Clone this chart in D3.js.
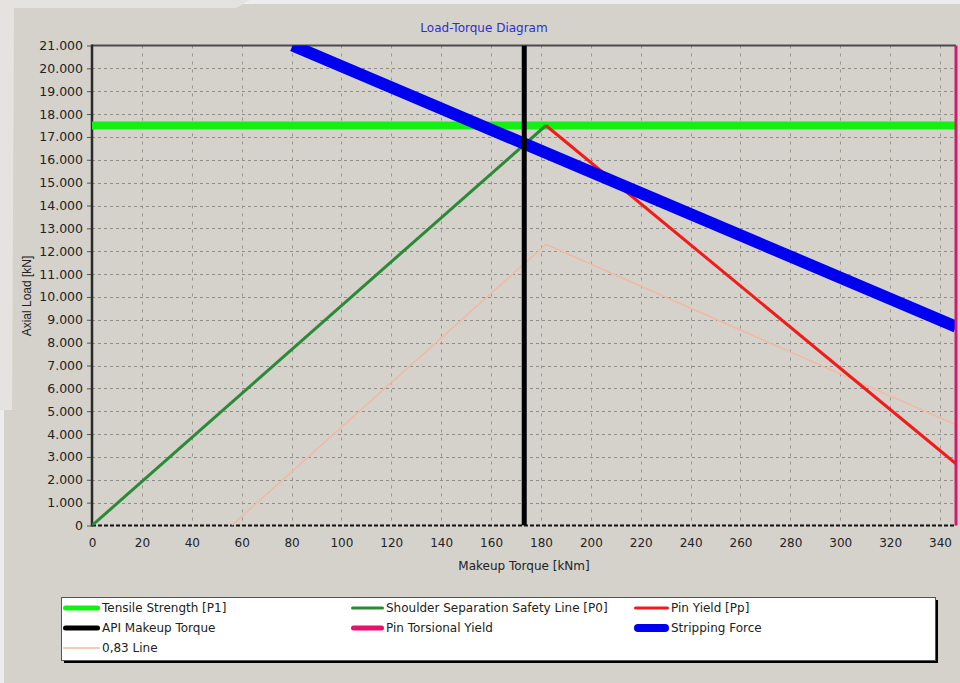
<!DOCTYPE html>
<html>
<head>
<meta charset="utf-8">
<script src="https://cdn.jsdelivr.net/npm/d3@7"></script>
<style>
  html, body { margin: 0; padding: 0; background: #ededed; }
  svg { display: block; }
</style>
</head>
<body>
<div id="chart"></div>
<script>
// Load-Torque Diagram (axial load vs makeup torque)

const xMax = 346.4;
const yMax = 21000;
const xTicks = d3.range(0, 341, 20);
const yTicks = d3.range(0, 21001, 1000);

// series as [torque kNm, load kN]
const tensileStrength = [[0, 17500], [346.4, 17500]];
const shoulderLine = [[0, 0], [182, 17500]];
const pinYield = [[182, 17500], [346.4, 2700]];
const apiMakeupTorque = [[173.3, 0], [173.3, 21000]];
const pinTorsionalYield = [[346.4, 0], [346.4, 21000]];
const strippingForce = [[80.4, 21000], [346.4, 8700]];
const line083 = [[56, 0], [182, 12300], [346.4, 4400]];

const legendItems = [
    { name: 'Tensile Strength [P1]', color: '#14f014', w: 5, col: 0, row: 0 },
    { name: 'Shoulder Separation Safety Line [P0]', color: '#2a8a36', w: 3, col: 1, row: 0 },
    { name: 'Pin Yield [Pp]', color: '#f01c1c', w: 3, col: 2, row: 0 },
    { name: 'API Makeup Torque', color: '#000000', w: 5, col: 0, row: 1 },
    { name: 'Pin Torsional Yield', color: '#e8106a', w: 5, col: 1, row: 1 },
    { name: 'Stripping Force', color: '#0000f0', w: 8, col: 2, row: 1 },
    { name: '0,83 Line', color: '#f2b9a2', w: 1.5, col: 0, row: 2 }
];

const width = 960, height = 683;
const plot = { left: 92, right: 956, top: 45.5, bottom: 525.5 };

const svg = d3.select('#chart').append('svg')
    .attr('width', width)
    .attr('height', height);

// panel background (with the lighter scan edges)
svg.append('rect')
    .attr('x', 4).attr('y', 4)
    .attr('width', width - 4).attr('height', height - 4)
    .attr('fill', '#d5d2cc');
svg.append('path')
    .attr('d', 'M0,0 L250,0 L236,8 L14,8 L12,410 L0,410 Z')
    .attr('fill', '#e4e3e0');

const x = d3.scaleLinear().domain([0, xMax]).range([plot.left, plot.right]);
const y = d3.scaleLinear().domain([0, yMax]).range([plot.bottom, plot.top]);

svg.append('defs').append('clipPath')
    .attr('id', 'plot-clip')
    .append('rect')
    .attr('x', plot.left)
    .attr('y', plot.top)
    .attr('width', plot.right - plot.left)
    .attr('height', plot.bottom - plot.top);

// Title
svg.append('text')
    .attr('x', 484)
    .attr('y', 32)
    .attr('text-anchor', 'middle')
    .style('font-family', 'DejaVu Sans, sans-serif')
    .style('font-size', '12px')
    .style('fill', '#2f2fc8')
    .text('Load-Torque Diagram');

// Grid
const grid = svg.append('g').attr('class', 'grid');
grid.selectAll('.hgrid')
    .data(yTicks.filter(d => d > 0 && d < yMax))
    .enter().append('line')
    .attr('x1', plot.left).attr('x2', plot.right)
    .attr('y1', d => Math.round(y(d)) + 0.5)
    .attr('y2', d => Math.round(y(d)) + 0.5)
    .attr('stroke', '#8f8d89')
    .attr('stroke-width', 1)
    .attr('stroke-dasharray', '3,3');
grid.selectAll('.vgrid')
    .data(xTicks.filter(d => d > 0))
    .enter().append('line')
    .attr('y1', plot.top).attr('y2', plot.bottom)
    .attr('x1', d => Math.round(x(d)) + 0.5)
    .attr('x2', d => Math.round(x(d)) + 0.5)
    .attr('stroke', '#979590')
    .attr('stroke-width', 1)
    .attr('stroke-dasharray', '3,5');

// Axes
const yAxis = svg.append('g')
    .attr('transform', `translate(${plot.left},0)`)
    .call(d3.axisLeft(y)
        .tickValues(yTicks)
        .tickSize(5)
        .tickPadding(4)
        .tickFormat(d => d === 0 ? '0' : d3.format(',')(d).replace(/,/g, '.')));
yAxis.select('.domain').remove();
yAxis.selectAll('line').attr('stroke', '#555');
yAxis.selectAll('text')
    .style('font-family', 'DejaVu Sans, sans-serif')
    .style('font-size', '12.5px')
    .style('fill', '#222');

const xAxis = svg.append('g')
    .attr('transform', `translate(0,${plot.bottom})`)
    .call(d3.axisBottom(x)
        .tickValues(xTicks)
        .tickSize(0)
        .tickPadding(13));
xAxis.select('.domain').remove();
xAxis.selectAll('text')
    .style('font-family', 'DejaVu Sans, sans-serif')
    .style('font-size', '12px')
    .style('fill', '#222');

svg.append('text')
    .attr('x', (plot.left + plot.right) / 2)
    .attr('y', 570)
    .attr('text-anchor', 'middle')
    .style('font-family', 'DejaVu Sans, sans-serif')
    .style('font-size', '12px')
    .style('fill', '#222')
    .text('Makeup Torque [kNm]');

svg.append('text')
    .attr('transform', 'translate(31,296) rotate(-90)')
    .attr('text-anchor', 'middle')
    .style('font-family', 'Liberation Sans, Arial, sans-serif')
    .style('font-size', '12px')
    .style('fill', '#222')
    .text('Axial Load [kN]');

// Frame
svg.append('line')
    .attr('x1', plot.left).attr('x2', plot.right)
    .attr('y1', plot.top).attr('y2', plot.top)
    .attr('stroke', '#4a4a4a').attr('stroke-width', 2);
svg.append('line')
    .attr('x1', plot.left).attr('x2', plot.right)
    .attr('y1', plot.bottom).attr('y2', plot.bottom)
    .attr('stroke', '#111').attr('stroke-width', 2)
    .attr('stroke-dasharray', '4,2');
svg.append('line')
    .attr('x1', plot.left).attr('x2', plot.left)
    .attr('y1', plot.top - 1).attr('y2', plot.bottom + 1)
    .attr('stroke', '#2a2a2a').attr('stroke-width', 2.5);

// Series
const lineGen = d3.line().x(d => x(d[0])).y(d => y(d[1]));
const series = svg.append('g').attr('clip-path', 'url(#plot-clip)');

function drawSeries(target, data, color, w) {
    target.append('path')
        .datum(data)
        .attr('d', lineGen)
        .attr('fill', 'none')
        .attr('stroke', color)
        .attr('stroke-width', w)
        .attr('stroke-linejoin', 'miter');
}

drawSeries(series, line083, '#f2b9a2', 1.5);
drawSeries(series, tensileStrength, '#14f014', 8);
drawSeries(series, shoulderLine, '#2a8a36', 3);
drawSeries(series, pinYield, '#f01c1c', 3);
drawSeries(series, strippingForce, '#0000f0', 12);
drawSeries(series, apiMakeupTorque, '#000000', 5);
// torsional yield sits on the right edge, keep it unclipped
drawSeries(svg, pinTorsionalYield, '#d8186a', 3);

// Legend
const legend = svg.append('g').attr('class', 'legend');
const box = { x: 61, y: 597, w: 874, h: 63 };
legend.append('rect')
    .attr('x', box.x + 3).attr('y', box.y + 3)
    .attr('width', box.w).attr('height', box.h)
    .attr('fill', '#000');
legend.append('rect')
    .attr('x', box.x + 0.5).attr('y', box.y + 0.5)
    .attr('width', box.w).attr('height', box.h)
    .attr('fill', '#fff')
    .attr('stroke', '#555');

const colX = [63, 351, 634];
const textX = [102, 386, 671];
const rowY = [608, 628, 648];

const items = legend.selectAll('.legend-item')
    .data(legendItems)
    .enter().append('g')
    .attr('class', 'legend-item');
items.append('line')
    .attr('x1', d => colX[d.col] + d.w / 2)
    .attr('x2', d => textX[d.col] - 2 - d.w / 2)
    .attr('y1', d => rowY[d.row])
    .attr('y2', d => rowY[d.row])
    .attr('stroke', d => d.color)
    .attr('stroke-width', d => d.w)
    .attr('stroke-linecap', 'round');
items.append('text')
    .attr('x', d => textX[d.col])
    .attr('y', d => rowY[d.row])
    .attr('dy', '0.35em')
    .style('font-family', 'DejaVu Sans, sans-serif')
    .style('font-size', '12px')
    .style('fill', '#222')
    .text(d => d.name);
</script>
</body>
</html>
